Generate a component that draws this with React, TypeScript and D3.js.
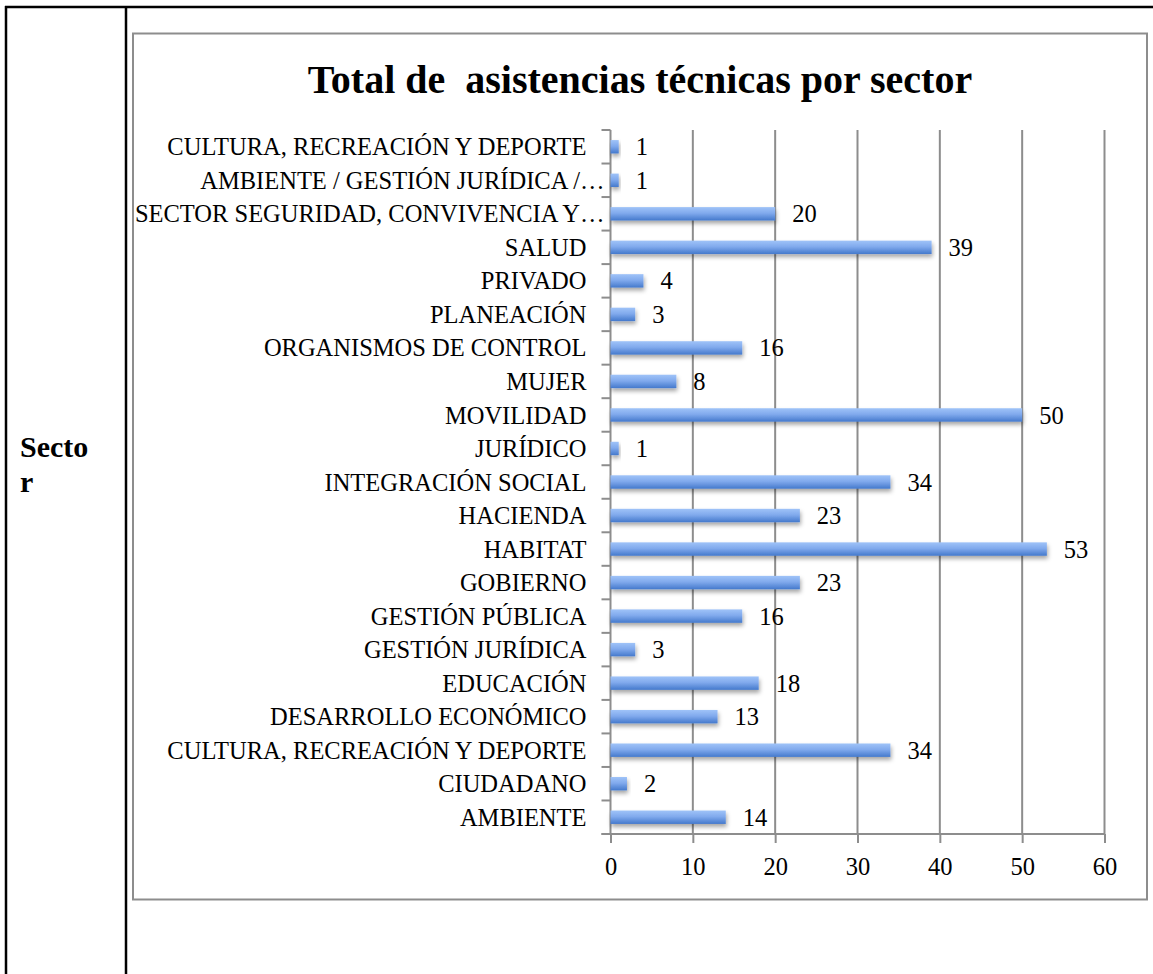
import React, { useEffect, useRef } from 'react';
import * as d3 from 'd3';

// bottom-to-top order, like the source spreadsheet
const categories = [
  'AMBIENTE',
  'CIUDADANO',
  'CULTURA, RECREACIÓN Y DEPORTE',
  'DESARROLLO ECONÓMICO',
  'EDUCACIÓN',
  'GESTIÓN JURÍDICA',
  'GESTIÓN PÚBLICA',
  'GOBIERNO',
  'HABITAT',
  'HACIENDA',
  'INTEGRACIÓN SOCIAL',
  'JURÍDICO',
  'MOVILIDAD',
  'MUJER',
  'ORGANISMOS DE CONTROL',
  'PLANEACIÓN',
  'PRIVADO',
  'SALUD',
  'SECTOR SEGURIDAD, CONVIVENCIA Y…',
  'AMBIENTE / GESTIÓN JURÍDICA /…',
  'CULTURA, RECREACIÓN Y DEPORTE',
];
const values = [14, 2, 34, 13, 18, 3, 16, 23, 53, 23, 34, 1, 50, 8, 16, 3, 4, 39, 20, 1, 1];
const xTicks = [0, 10, 20, 30, 40, 50, 60];
const title = 'Total de  asistencias técnicas por sector';

const App = () => {
  const ref = useRef<SVGSVGElement>(null);

  const width = 1153, height = 974;
  const plotLeft = 610.5, plotRight = 1104.5, plotTop = 130, plotBottom = 834;
  const FONT = '"Liberation Serif", "DejaVu Serif", serif';
  const GRID = '#8d8d8d';
  const FS = 24.5;

  useEffect(() => {
    const svg = d3.select(ref.current);
    svg.selectAll('*').remove();

    const rows = categories.map((c, i) => ({ key: String(i), name: c, value: values[i] }));

    const x = d3.scaleLinear().domain([0, 60]).range([plotLeft, plotRight]);
    const y = d3.scaleBand()
      .domain(rows.map(d => d.key).reverse())
      .range([plotTop, plotBottom])
      .paddingInner(0.6)
      .paddingOuter(0.3);

    const defs = svg.append('defs');
    const grad = defs.append('linearGradient')
      .attr('id', 'barGrad').attr('x1', 0).attr('y1', 0).attr('x2', 0).attr('y2', 1);
    grad.append('stop').attr('offset', '0%').attr('stop-color', '#9fc3f8');
    grad.append('stop').attr('offset', '45%').attr('stop-color', '#81aaed');
    grad.append('stop').attr('offset', '100%').attr('stop-color', '#4479cc');
    const shadow = defs.append('filter').attr('id', 'barShadow')
      .attr('x', '-10%').attr('y', '-30%').attr('width', '130%').attr('height', '200%');
    shadow.append('feDropShadow')
      .attr('dx', 1).attr('dy', 3).attr('stdDeviation', 2)
      .attr('flood-color', '#000').attr('flood-opacity', 0.35);

    // table lines
    const table = svg.append('g').attr('stroke', '#000').attr('stroke-width', 2.5);
    table.append('line').attr('x1', 5).attr('x2', width).attr('y1', 7).attr('y2', 7);
    table.append('line').attr('x1', 6).attr('x2', 6).attr('y1', 6).attr('y2', height);
    table.append('line').attr('x1', 126).attr('x2', 126).attr('y1', 6).attr('y2', height);

    svg.append('text')
      .attr('x', 20).attr('y', 457)
      .attr('font-family', FONT).attr('font-weight', 'bold').attr('font-size', 30)
      .text('Secto');
    svg.append('text')
      .attr('x', 20).attr('y', 492)
      .attr('font-family', FONT).attr('font-weight', 'bold').attr('font-size', 30)
      .text('r');

    // chart frame
    svg.append('rect')
      .attr('x', 133).attr('y', 33.5).attr('width', 1014).attr('height', 866)
      .attr('fill', '#fff').attr('stroke', GRID).attr('stroke-width', 2);

    svg.append('text')
      .attr('x', 640).attr('y', 93)
      .attr('text-anchor', 'middle')
      .attr('font-family', FONT).attr('font-weight', 'bold').attr('font-size', 40)
      .style('white-space', 'pre')
      .text(title);

    // vertical grid
    svg.append('g')
      .selectAll('line')
      .data(xTicks.filter(t => t > 0))
      .join('line')
      .attr('x1', d => x(d)).attr('x2', d => x(d))
      .attr('y1', plotTop).attr('y2', plotBottom)
      .attr('stroke', GRID).attr('stroke-width', 2);

    // x axis
    svg.append('g')
      .attr('transform', `translate(0,${plotBottom})`)
      .call(d3.axisBottom(x).tickValues(xTicks).tickSize(9).tickSizeOuter(0).tickPadding(15))
      .call(g => {
        g.select('.domain').attr('stroke', GRID).attr('stroke-width', 2)
          .attr('d', `M${plotLeft - 9},0H${plotRight}`);
        g.selectAll('.tick line').attr('stroke', GRID).attr('stroke-width', 2);
        g.selectAll('.tick text')
          .attr('font-family', FONT).attr('font-size', FS).attr('fill', '#000');
      });

    // y axis: ticks at band boundaries
    const bounds = d3.range(categories.length + 1).map(i => plotTop + i * (plotBottom - plotTop) / categories.length);
    const yAxis = svg.append('g');
    yAxis.append('line')
      .attr('x1', plotLeft).attr('x2', plotLeft)
      .attr('y1', plotTop).attr('y2', plotBottom)
      .attr('stroke', GRID).attr('stroke-width', 2);
    yAxis.selectAll('line.tk')
      .data(bounds)
      .join('line')
      .attr('class', 'tk')
      .attr('x1', plotLeft - 9).attr('x2', plotLeft)
      .attr('y1', d => d).attr('y2', d => d)
      .attr('stroke', GRID).attr('stroke-width', 2);

    // category labels
    svg.append('g')
      .selectAll('text')
      .data(rows)
      .join('text')
      .attr('x', d => (d.name.endsWith('…') ? plotLeft - 6 : plotLeft - 24))
      .attr('y', d => (y(d.key) as number) + y.bandwidth() / 2)
      .attr('dy', '0.35em')
      .attr('text-anchor', 'end')
      .attr('font-family', FONT).attr('font-size', FS).attr('fill', '#000')
      .text(d => d.name);

    // bars
    svg.append('g')
      .selectAll('rect')
      .data(rows)
      .join('rect')
      .attr('x', x(0))
      .attr('y', d => y(d.key) as number)
      .attr('width', d => x(d.value) - x(0))
      .attr('height', y.bandwidth())
      .attr('fill', 'url(#barGrad)')
      .attr('filter', 'url(#barShadow)');

    // value labels
    svg.append('g')
      .selectAll('text')
      .data(rows)
      .join('text')
      .attr('x', d => x(d.value) + 17)
      .attr('y', d => (y(d.key) as number) + y.bandwidth() / 2)
      .attr('dy', '0.35em')
      .attr('font-family', FONT).attr('font-size', FS).attr('fill', '#000')
      .text(d => d.value);
  }, []);

  return (
    <svg
      ref={ref}
      width={width}
      height={height}
      style={{ position: 'absolute', left: 0, top: 0, background: '#fff' }}
    />
  );
};

export default App;
